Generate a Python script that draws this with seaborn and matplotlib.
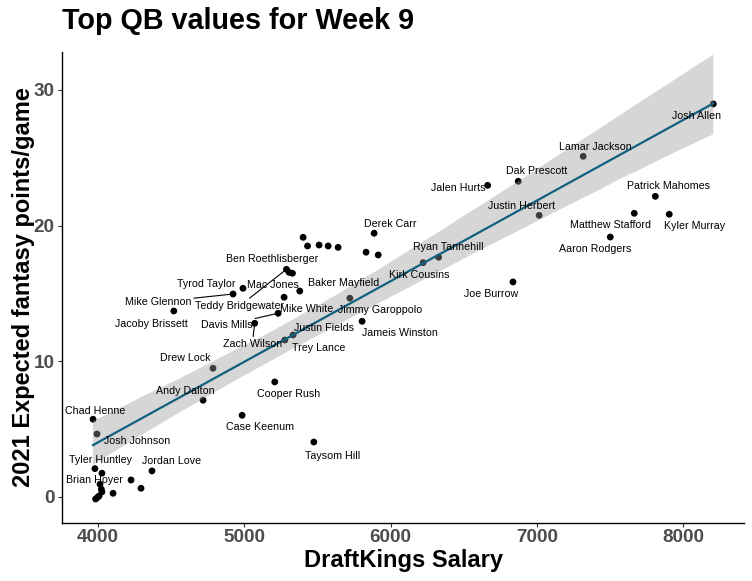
import numpy as np
import pandas as pd
import matplotlib
matplotlib.use("Agg")
import matplotlib.pyplot as plt
from matplotlib.collections import PolyCollection
import seaborn as sns

# ---------------- data ----------------
player = [
    "Josh Allen", "Lamar Jackson", "Dak Prescott", "Jalen Hurts", "Justin Herbert",
    "Patrick Mahomes", "Matthew Stafford", "Kyler Murray", "Aaron Rodgers", "Derek Carr",
    "", "", "", "", "", "", "",
    "Ryan Tannehill", "Kirk Cousins", "Joe Burrow", "Baker Mayfield", "Jimmy Garoppolo",
    "Mike White", "Justin Fields", "Trey Lance", "Jameis Winston", "Ben Roethlisberger",
    "Mac Jones", "Teddy Bridgewater", "Tyrod Taylor", "Mike Glennon", "Jacoby Brissett",
    "Davis Mills", "Zach Wilson", "Drew Lock", "Andy Dalton", "Cooper Rush",
    "Case Keenum", "Taysom Hill", "Chad Henne", "Josh Johnson", "Tyler Huntley",
    "", "Jordan Love", "Brian Hoyer", "", "", "", "", "", "", "", "",
]
salary = [
    8205, 7316, 6872, 6663, 7015,
    7809, 7665, 7904, 7501, 5887,
    5402, 5432, 5511, 5573, 5641, 5832, 5915,
    6328, 6222, 6836, 5379, 5721,
    5272, 5333, 5277, 5805, 5306,
    5329, 5288, 4991, 4923, 4518,
    5231, 5071, 4786, 4718, 5208,
    4985, 5475, 3966, 3993, 3979,
    4027, 4369, 4014, 4226, 4294, 4023, 4027, 4103, 3984, 3998, 4007,
]
exp_points = [
    28.97, 25.11, 23.27, 22.97, 20.76,
    22.16, 20.91, 20.84, 19.16, 19.44,
    19.14, 18.50, 18.57, 18.50, 18.40, 18.04, 17.84,
    17.67, 17.27, 15.85, 15.18, 14.65,
    14.72, 11.94, 11.57, 12.95, 16.56,
    16.49, 16.78, 15.38, 14.96, 13.71,
    13.54, 12.80, 9.49, 7.13, 8.48,
    6.02, 4.05, 5.73, 4.64, 2.09,
    1.75, 1.92, 0.94, 1.25, 0.64, 0.57, 0.37, 0.27, -0.15, -0.02, 0.07,
]
x_ticks = [4000, 5000, 6000, 7000, 8000]
y_ticks = [0, 10, 20, 30]

# ---------------- label layout (pixel offsets right/down, segment flag) ----------------
label_layout = {
    "Josh Allen": (-16.6, 12, False),
    "Lamar Jackson": (12.2, -9, False),
    "Dak Prescott": (18, -10.3, False),
    "Jalen Hurts": (-29.2, 3, False),
    "Justin Herbert": (-17.6, -9, False),
    "Patrick Mahomes": (13, -10, False),
    "Matthew Stafford": (-23.8, 11.7, False),
    "Kyler Murray": (24.9, 11.7, False),
    "Aaron Rodgers": (-15.3, 12.3, False),
    "Ryan Tannehill": (9.3, -10.6, False),
    "Kirk Cousins": (-3.6, 12.3, False),
    "Derek Carr": (16.5, -9.3, False),
    "Baker Mayfield": (43.7, -8.3, False),
    "Jimmy Garoppolo": (30.5, 11.7, False),
    "Mike White": (22.5, 11.7, False),
    "Justin Fields": (30.9, -6.7, False),
    "Trey Lance": (33.7, 7.7, False),
    "Jameis Winston": (37.7, 12, False),
    "Joe Burrow": (-21.5, 12, False),
    "Ben Roethlisberger": (-16.5, -13, False),
    "Mac Jones": (-19.9, 11.7, False),
    "Teddy Bridgewater": (-47, 36.7, True),
    "Tyrod Taylor": (-36.6, -4.3, False),
    "Mike Glennon": (-75.3, 8, True),
    "Jacoby Brissett": (-22.7, 13.3, False),
    "Davis Mills": (-51.6, 11.7, True),
    "Zach Wilson": (-2.5, 21, True),
    "Drew Lock": (-27.8, -10, False),
    "Andy Dalton": (-17.3, -9.3, False),
    "Cooper Rush": (14, 12, False),
    "Case Keenum": (17.7, 11.7, False),
    "Taysom Hill": (18.5, 14, False),
    "Chad Henne": (2.2, -8.6, False),
    "Josh Johnson": (40, 6.7, False),
    "Tyler Huntley": (5.2, -8.7, False),
    "Jordan Love": (19.4, -10, False),
    "Brian Hoyer": (-5.3, -4.3, False),
}

df = pd.DataFrame({"player": player, "salary": salary, "exp_points": exp_points})

# ---------------- figure ----------------
W, H = 752, 581
fig = plt.figure(figsize=(W / 100, H / 100), dpi=100)
plt.rcParams["font.family"] = ["Liberation Sans", "DejaVu Sans"]

ax_left, ax_right, ax_top, ax_bottom = 62, 744.3, 52, 523
ax = fig.add_axes([ax_left / W, 1 - ax_bottom / H,
                   (ax_right - ax_left) / W, (ax_bottom - ax_top) / H])

sns.scatterplot(data=df, x="salary", y="exp_points", color="black", s=24,
                edgecolor="none", linewidth=0, ax=ax, zorder=2, legend=False)

sns.regplot(data=df, x="salary", y="exp_points", scatter=False, ax=ax,
            color="#11607f", line_kws=dict(lw=1.6, zorder=4), seed=3, n_boot=2000)

for coll in ax.collections:
    if isinstance(coll, PolyCollection):
        coll.set_alpha(0.4)
        coll.set_facecolor("#999999")
        coll.set_edgecolor("none")
        coll.set_zorder(3)

# labels
for name, sx, sy in zip(player, salary, exp_points):
    if not name or name not in label_layout:
        continue
    dx, dy, seg = label_layout[name]
    kw = {}
    if seg:
        kw["arrowprops"] = dict(arrowstyle="-", color="black", lw=0.8,
                                shrinkA=0, shrinkB=2)
    ax.annotate(name, xy=(sx, sy), xytext=(dx, -dy), textcoords="offset pixels",
                ha="center", va="center", fontsize=7.7, color="black",
                zorder=6, **kw)

ax.set_xlim(3754, 8417)
ax.set_ylim(-1.92, 32.8)
ax.set_xticks(x_ticks)
ax.set_yticks(y_ticks)
ax.set_xticklabels([str(t) for t in x_ticks])
ax.set_yticklabels([str(t) for t in y_ticks])

for side in ["top", "right"]:
    ax.spines[side].set_visible(False)
for side in ["left", "bottom"]:
    ax.spines[side].set_color("black")
    ax.spines[side].set_linewidth(1.0)

ax.tick_params(axis="both", length=2.7, width=0.8, color="#333333",
               labelsize=13.6, labelcolor="#4d4d4d")
ax.tick_params(axis="x", pad=1.5)
ax.tick_params(axis="y", pad=2.5)
for lab in ax.get_xticklabels() + ax.get_yticklabels():
    lab.set_fontweight("bold")
ax.grid(False)
ax.set_facecolor("white")

ax.set_xlabel("DraftKings Salary", fontsize=17, fontweight="bold", color="black")
ax.set_ylabel("2021 Expected fantasy points/game", fontsize=17, fontweight="bold",
              color="black")
ax.xaxis.set_label_coords(0.5, (ax_bottom - 567.3) / (ax_bottom - ax_top))
ax.xaxis.label.set_va("baseline")
ax.yaxis.set_label_coords((35 - ax_left) / (ax_right - ax_left), 0.5)

fig.text(ax_left / W, 1 - 29.3 / H, "Top QB values for Week 9", fontsize=20.7,
         fontweight="bold", ha="left", va="baseline", color="black")

fig.savefig("out.png", dpi=100, facecolor="white")
